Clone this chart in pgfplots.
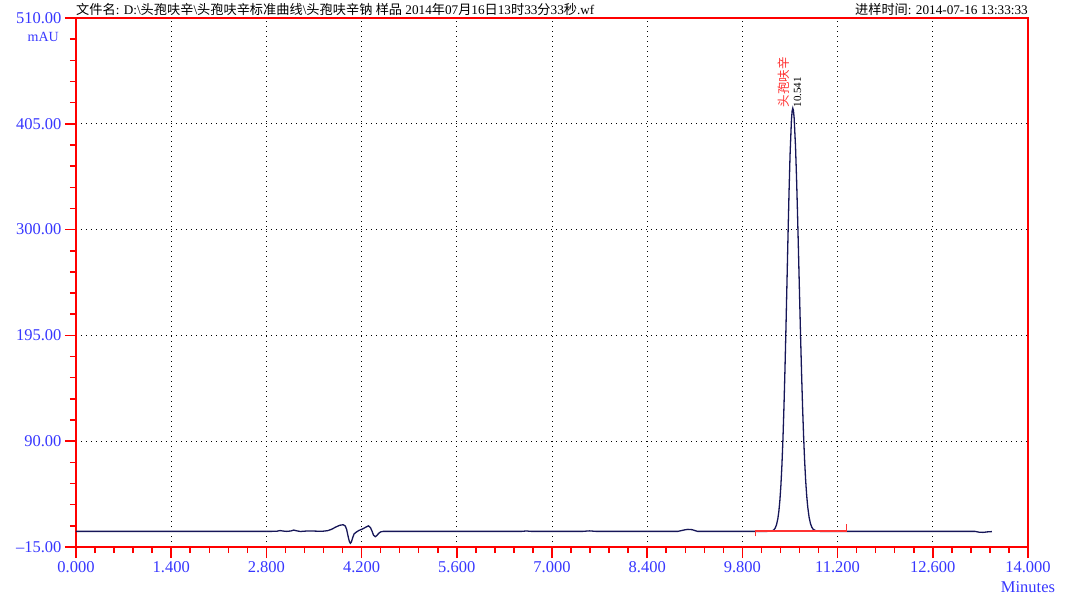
\documentclass[border=0pt]{standalone}
\usepackage{pgfplots}
\pgfplotsset{compat=1.18}
\usepackage{pgfplotstable}
\usepackage{fontspec}
\setmainfont{Liberation Serif}
\newfontfamily\cjk{Noto Sans CJK SC}
\definecolor{axred}{RGB}{255,0,0}
\definecolor{lblred}{RGB}{255,50,50}
\definecolor{tickblue}{RGB}{55,55,255}
\definecolor{navy}{RGB}{22,22,88}

\pgfplotstableread{
t v
0.000 0.5
1.000 0.5
2.000 0.5
2.850 0.5
2.950 0.6
3.000 1.3
3.050 0.8
3.100 0.5
3.160 0.9
3.200 1.8
3.250 1.0
3.300 0.4
3.380 0.8
3.460 0.9
3.550 0.7
3.620 0.6
3.700 1.2
3.760 2.6
3.820 4.8
3.880 6.6
3.930 7.1
3.960 5.8
3.980 2.5
4.000 -4.0
4.020 -9.5
4.035 -11.3
4.050 -10.0
4.070 -5.5
4.090 -2.0
4.120 -0.3
4.160 1.4
4.210 2.8
4.260 4.6
4.300 6.0
4.330 4.3
4.355 0.5
4.375 -3.2
4.400 -4.8
4.425 -3.6
4.450 -1.5
4.480 0.0
4.520 0.5
5.500 0.5
6.550 0.5
6.620 0.9
6.700 0.5
7.450 0.5
7.550 1.0
7.650 0.5
8.850 0.5
8.950 2.0
9.000 2.5
9.060 2.2
9.140 0.5
10.000 0.5
10.141 0.5
10.191 0.56
10.241 1.1
10.261 1.9
10.281 3.6
10.301 6.9
10.321 13.0
10.336 20.4
10.351 31.1
10.366 46.0
10.381 66.0
10.396 91.8
10.411 123.7
10.426 161.3
10.441 203.7
10.456 249.1
10.471 294.8
10.486 337.7
10.501 374.5
10.521 408.5
10.531 417.5
10.541 420.5
10.551 418.0
10.561 410.7
10.581 382.6
10.596 351.8
10.611 315.0
10.626 274.6
10.641 233.2
10.656 192.8
10.671 155.3
10.686 121.8
10.701 93.1
10.716 69.3
10.731 50.3
10.746 35.6
10.761 24.6
10.781 14.5
10.801 8.25
10.821 4.6
10.841 2.56
10.891 0.8
10.941 0.53
11.000 0.5
13.220 0.5
13.280 -0.3
13.340 -0.5
13.400 0.0
13.470 0.3
}\chrom

\begin{document}
\begin{tikzpicture}
\path[use as bounding box] (-76bp,-48bp) rectangle (995bp,547bp);
\begin{axis}[
  at={(0,0)}, anchor=south west,
  scale only axis,
  width=952bp, height=529bp,
  xmin=0, xmax=14, ymin=-15, ymax=510,
  xtick={0,1.4,2.8,4.2,5.6,7,8.4,9.8,11.2,12.6,14},
  xticklabels={0.000,1.400,2.800,4.200,5.600,7.000,8.400,9.800,11.200,12.600,14.000},
  ytick={-15,90,195,300,405,510},
  yticklabels={–15.00,90.00,195.00,300.00,405.00,510.00},
  minor x tick num=4, minor y tick num=4,
  tick align=outside, tick pos=left,
  major tick length=11bp, minor tick length=6bp,
  every tick/.style={axred, line width=1.5bp},
  axis line style={axred, line width=1.5bp},
  grid=major,
  major grid style={black, line width=0.9bp, dash pattern=on 1bp off 4bp},
  tick label style={font=\fontsize{16.5bp}{18bp}\selectfont, text=tickblue},
  clip=false,
]
\addplot[navy, line width=1.3bp] table[x=t, y=v] {\chrom};
\addplot[lblred, line width=1.6bp] coordinates {(9.995,-4.5) (9.995,0.6) (11.33,0.6) (11.33,7.5)};
\node[rotate=90, anchor=west, inner sep=0pt, text=lblred, font=\cjk\fontsize{12.5bp}{14bp}\selectfont] at (axis cs:10.41,421) {头孢呋辛};
\node[rotate=90, anchor=west, inner sep=0pt, text=black, font=\fontsize{11bp}{12bp}\selectfont] at (axis cs:10.61,421) {10.541};
\node[anchor=base west, inner sep=0pt, font=\fontsize{13.2bp}{15bp}\selectfont] at ([yshift=3bp]rel axis cs:0,1) {{\cjk 文件名}: D:\textbackslash{\cjk 头孢呋辛}\textbackslash{\cjk 头孢呋辛标准曲线}\textbackslash{\cjk 头孢呋辛钠} {\cjk 样品} 2014{\cjk 年}07{\cjk 月}16{\cjk 日}13{\cjk 时}33{\cjk 分}33{\cjk 秒}.wf};
\node[anchor=base east, inner sep=0pt, font=\fontsize{13.2bp}{15bp}\selectfont] at ([yshift=3bp]rel axis cs:1,1) {{\cjk 进样时间}: 2014-07-16 13:33:33};
\node[anchor=east, inner sep=0pt, text=tickblue, font=\fontsize{14bp}{15bp}\selectfont] at ([xshift=-17bp,yshift=-19bp]rel axis cs:0,1) {mAU};
\node[anchor=center, inner sep=0pt, text=tickblue, font=\fontsize{16.5bp}{18bp}\selectfont] at ([yshift=-40bp]rel axis cs:1,0) {Minutes};
\end{axis}
\end{tikzpicture}
\end{document}
